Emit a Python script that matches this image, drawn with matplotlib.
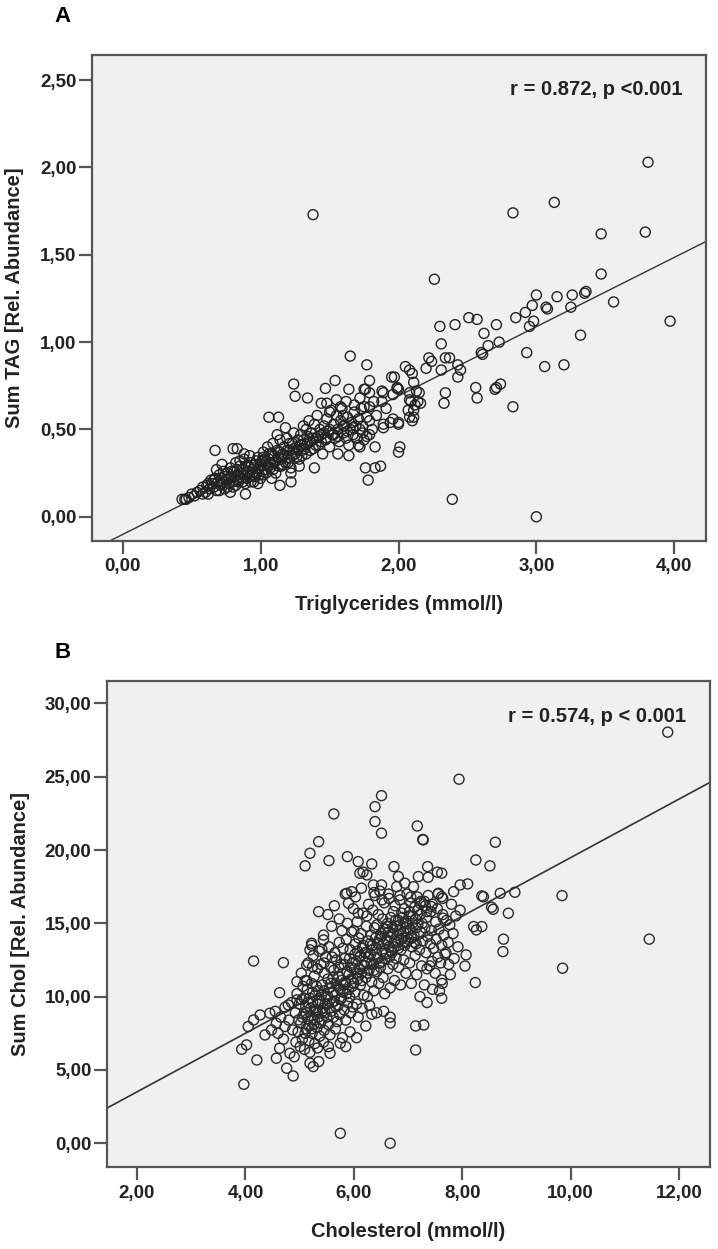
import numpy as np
import matplotlib
matplotlib.use('Agg')
import matplotlib.pyplot as plt
from matplotlib.ticker import FuncFormatter

plt.rcParams['font.family'] = ['Liberation Sans', 'DejaVu Sans']
plt.rcParams['font.weight'] = 'bold'

# panel A: triglycerides (mmol/l) vs sum TAG
tag_points = [
    # sparse upper part
    (3.81, 2.03), (3.13, 1.80), (2.83, 1.74), (3.47, 1.62), (3.79, 1.63), (2.26, 1.36), (1.38, 1.73),
    (3.47, 1.39), (3.56, 1.23), (3.97, 1.12), (3.36, 1.29), (3.35, 1.28), (3.26, 1.27), (3.25, 1.20),
    (3.15, 1.26), (3.07, 1.20), (3.08, 1.19), (3.00, 1.27), (2.97, 1.21), (2.92, 1.17), (2.98, 1.12),
    (2.95, 1.09), (2.85, 1.14), (2.71, 1.10), (2.73, 1.00), (2.65, 0.98), (2.60, 0.94), (2.61, 0.93),
    (2.62, 1.05), (2.57, 1.13), (2.51, 1.14), (2.41, 1.10), (2.30, 1.09), (2.31, 0.99), (2.22, 0.91),
    (2.24, 0.89), (2.37, 0.91), (2.34, 0.91), (2.20, 0.85), (2.31, 0.84), (2.43, 0.87), (2.45, 0.84),
    (2.43, 0.80), (2.93, 0.94), (3.32, 1.04), (3.06, 0.86), (3.20, 0.87), (2.34, 0.71), (2.33, 0.65),
    (2.56, 0.74), (2.57, 0.68), (2.70, 0.73), (2.71, 0.74), (2.74, 0.76), (2.83, 0.63), (2.39, 0.10),
    (3.00, 0.00), (2.01, 0.40), (2.00, 0.37),
    # group around 2.0
    (1.97, 0.80), (1.99, 0.735), (1.96, 0.70), (2.05, 0.86), (2.08, 0.84), (2.10, 0.82), (2.11, 0.77),
    (2.13, 0.72), (2.14, 0.66), (2.12, 0.64), (2.08, 0.67), (2.07, 0.61), (2.11, 0.57), (2.10, 0.55),
    (2.00, 0.53), (1.94, 0.54), (1.89, 0.51), (1.88, 0.72), (2.00, 0.73), (1.99, 0.74), (1.89, 0.71),
    (1.88, 0.66), (2.08, 0.71), (2.15, 0.71), (2.16, 0.65), (2.09, 0.66), (1.91, 0.62), (1.96, 0.56),
    (1.89, 0.53), (2.00, 0.54), (2.08, 0.57), (2.11, 0.61), (1.87, 0.29), (1.95, 0.80),
    # 1.7 - 1.85
    (1.77, 0.87), (1.79, 0.78), (1.76, 0.73), (1.79, 0.71), (1.75, 0.63), (1.79, 0.63), (1.77, 0.57),
    (1.79, 0.55), (1.74, 0.48), (1.77, 0.46), (1.79, 0.47), (1.72, 0.40), (1.83, 0.40), (1.76, 0.28),
    (1.83, 0.28), (1.78, 0.21), (1.65, 0.92), (1.82, 0.66), (1.84, 0.58), (1.81, 0.50),
    # around the band
    (1.24, 0.76), (1.25, 0.69), (1.34, 0.68), (1.47, 0.735), (1.54, 0.78), (1.48, 0.65), (1.55, 0.67),
    (1.64, 0.73), (1.06, 0.57), (1.13, 0.57), (0.67, 0.38), (0.72, 0.30), (0.80, 0.39), (0.83, 0.39),
    (0.89, 0.13), (1.39, 0.28), (1.14, 0.18), (1.22, 0.20), (1.56, 0.36), (1.64, 0.35), (1.71, 0.41),
    (1.44, 0.65), (1.50, 0.60), (1.58, 0.63), (1.62, 0.66), (1.68, 0.64), (1.72, 0.68), (1.60, 0.58),
    (1.75, 0.73), (0.43, 0.10), (0.45, 0.10),
    # dense band
    (0.46, 0.10), (0.48, 0.11), (0.52, 0.12), (0.54, 0.14), (0.50, 0.13),
    (0.56, 0.15), (0.58, 0.17), (0.60, 0.14), (0.62, 0.19), (0.63, 0.16), (0.64, 0.21), (0.61, 0.18),
    (0.66, 0.17), (0.67, 0.22), (0.68, 0.15), (0.69, 0.20), (0.70, 0.24), (0.71, 0.18), (0.72, 0.22),
    (0.73, 0.26), (0.74, 0.16), (0.68, 0.27),
    (0.75, 0.21), (0.76, 0.25), (0.77, 0.19), (0.78, 0.28), (0.79, 0.23), (0.80, 0.17), (0.81, 0.26),
    (0.82, 0.31), (0.83, 0.21), (0.84, 0.24), (0.78, 0.14), (0.85, 0.29),
    (0.86, 0.22), (0.87, 0.27), (0.88, 0.33), (0.89, 0.19), (0.90, 0.25), (0.91, 0.29), (0.92, 0.23),
    (0.93, 0.31), (0.94, 0.27), (0.95, 0.20), (0.88, 0.36), (0.92, 0.35),
    (0.96, 0.30), (0.97, 0.25), (0.98, 0.34), (0.99, 0.28), (1.00, 0.22), (1.01, 0.32), (1.02, 0.37),
    (1.03, 0.27), (1.04, 0.30), (1.05, 0.40), (0.98, 0.19), (1.02, 0.24),
    (1.06, 0.33), (1.07, 0.28), (1.08, 0.36), (1.09, 0.42), (1.10, 0.31), (1.11, 0.25), (1.12, 0.38),
    (1.13, 0.34), (1.14, 0.44), (1.15, 0.29), (1.08, 0.22), (1.12, 0.47),
    (1.16, 0.36), (1.17, 0.40), (1.18, 0.31), (1.19, 0.45), (1.20, 0.34), (1.21, 0.38), (1.22, 0.28),
    (1.23, 0.42), (1.24, 0.48), (1.25, 0.36), (1.18, 0.51), (1.22, 0.25),
    (1.26, 0.40), (1.27, 0.44), (1.28, 0.33), (1.29, 0.47), (1.30, 0.38), (1.31, 0.52), (1.32, 0.42),
    (1.33, 0.36), (1.34, 0.46), (1.35, 0.55), (1.28, 0.29), (1.33, 0.50),
    (1.36, 0.43), (1.37, 0.48), (1.38, 0.39), (1.39, 0.53), (1.40, 0.45), (1.41, 0.58), (1.42, 0.41),
    (1.43, 0.50), (1.44, 0.47), (1.45, 0.36),
    (1.46, 0.52), (1.47, 0.44), (1.48, 0.56), (1.49, 0.49), (1.50, 0.40), (1.51, 0.61), (1.52, 0.47),
    (1.53, 0.53), (1.54, 0.45), (1.55, 0.58),
    (1.56, 0.50), (1.57, 0.43), (1.58, 0.55), (1.59, 0.62), (1.60, 0.48), (1.61, 0.52), (1.62, 0.45),
    (1.63, 0.57), (1.64, 0.41), (1.65, 0.50),
    (1.66, 0.54), (1.67, 0.47), (1.68, 0.60), (1.69, 0.52), (1.70, 0.45), (1.71, 0.56), (1.72, 0.50),
    (1.73, 0.62), (1.74, 0.52), (1.75, 0.44),
    # more of the dense band core
    (0.62, 0.13), (0.65, 0.19), (0.70, 0.15), (0.72, 0.19), (0.74, 0.23), (0.76, 0.17), (0.77, 0.22),
    (0.79, 0.26), (0.80, 0.20), (0.81, 0.23), (0.82, 0.18), (0.83, 0.27), (0.84, 0.20), (0.86, 0.25),
    (0.87, 0.20), (0.88, 0.24), (0.89, 0.29), (0.90, 0.22), (0.91, 0.26), (0.93, 0.20), (0.94, 0.24),
    (0.95, 0.28), (0.96, 0.23), (0.97, 0.32), (0.99, 0.24), (1.00, 0.30), (1.01, 0.26), (1.03, 0.33),
    (1.04, 0.25), (1.05, 0.29), (1.06, 0.36), (1.07, 0.31), (1.09, 0.27), (1.10, 0.35), (1.11, 0.32),
    (1.13, 0.29), (1.14, 0.37), (1.15, 0.33), (1.16, 0.30), (1.17, 0.35), (1.19, 0.38), (1.20, 0.31),
    (1.21, 0.42), (1.23, 0.35), (1.24, 0.39), (1.26, 0.34), (1.27, 0.38), (1.29, 0.41), (1.30, 0.35),
    (1.31, 0.44), (1.32, 0.39), (1.34, 0.42), (1.36, 0.38), (1.38, 0.45), (1.40, 0.41), (1.42, 0.46),
    (1.44, 0.43), (1.46, 0.48), (1.48, 0.45), (1.50, 0.50), (1.53, 0.47), (1.56, 0.46), (1.60, 0.52),
    (1.63, 0.49), (1.67, 0.51), (0.58, 0.13), (0.66, 0.21), (0.73, 0.20), (0.85, 0.32), (1.02, 0.34),
]
tri_mmol = [p[0] for p in tag_points]
sum_tag = [p[1] for p in tag_points]

# panel B: cholesterol (mmol/l) vs sum Chol
chol_points = [
    # sparse upper / right part
    (11.79, 28.04), (7.94, 24.83), (6.51, 23.71), (6.39, 22.96), (6.39, 21.94), (6.51, 21.15),
    (5.63, 22.46), (7.17, 21.64), (7.28, 20.69), (7.27, 20.72), (8.61, 20.53), (5.35, 20.57),
    (5.19, 19.78), (5.10, 18.92), (5.54, 19.28), (8.25, 19.32), (8.51, 18.92), (5.88, 19.55),
    (6.08, 19.21), (6.33, 19.05), (6.11, 18.42), (6.24, 18.30), (6.74, 18.87), (6.82, 18.19),
    (6.94, 17.74), (7.10, 17.50), (7.19, 18.19), (7.36, 18.87), (7.54, 18.49), (7.37, 18.14),
    (7.62, 18.42), (7.84, 17.16), (7.96, 17.62), (8.10, 17.69), (8.36, 16.87), (8.39, 16.81),
    (8.70, 17.05), (8.97, 17.12), (8.54, 16.10), (8.57, 15.96), (8.85, 15.69), (9.84, 16.89),
    (11.45, 13.92), (9.85, 11.94), (8.76, 13.92), (8.75, 13.07), (8.24, 10.96), (8.07, 12.85),
    (8.05, 12.09), (8.21, 14.78), (8.36, 14.78), (8.26, 14.55), (7.62, 16.82), (7.65, 15.35),
    (7.62, 11.14), (7.63, 10.90), (7.62, 9.89), (5.35, 15.80), (6.17, 18.50), (6.36, 17.62),
    (6.51, 17.62), (7.22, 16.37), (7.34, 15.80), (7.43, 16.14), (7.56, 17.05),
    # left and low part
    (4.15, 12.43), (4.70, 12.32), (3.97, 4.02), (3.93, 6.41), (4.02, 6.71), (4.21, 5.68),
    (4.05, 7.96), (4.15, 8.41), (4.27, 8.75), (4.36, 7.39), (4.48, 7.73), (4.57, 8.19),
    (4.45, 8.87), (4.63, 10.27), (4.73, 9.28), (4.63, 6.48), (4.57, 5.80), (4.76, 5.12),
    (4.88, 4.59), (4.82, 6.14), (4.87, 7.73), (4.73, 7.96), (5.75, 0.68), (6.67, 0.00),
    (4.95, 11.02), (5.10, 11.09), (4.95, 9.78), (4.79, 9.43), (4.98, 8.41), (5.01, 6.59),
    (5.19, 5.46), (5.25, 5.23), (5.35, 5.57), (5.56, 6.14), (5.19, 13.19), (5.22, 13.64),
    (5.44, 13.87), (5.41, 13.23), (5.13, 12.16), (5.24, 12.05), (5.53, 6.59), (5.75, 6.82),
    (5.85, 6.59), (4.55, 9.00), (4.65, 8.60), (4.70, 7.10), (4.80, 8.40), (4.85, 9.60),
    (4.90, 5.90), (4.60, 7.50), (7.14, 6.36), (7.14, 8.00), (7.29, 8.07), (7.22, 10.00),
    (7.35, 9.60), (7.45, 10.50), (7.40, 12.10), (7.50, 11.60), (7.30, 10.80), (7.60, 12.30),
    (6.42, 8.90), (6.67, 8.60), (6.67, 8.20), (6.22, 8.00), (6.05, 7.20), (6.55, 9.00),
    (5.87, 17.05), (5.96, 17.16), (5.90, 16.37), (6.08, 15.69), (6.37, 17.10), (6.52, 16.60),
    (6.64, 17.00), (6.85, 16.90), (7.05, 16.80), (7.30, 16.50), (7.55, 17.00), (7.64, 16.70),
    (7.70, 13.00), (7.75, 12.20), (7.78, 11.50), (7.85, 12.60),
    # dense core
    (4.92, 8.9), (4.95, 10.2), (4.97, 7.6), (4.99, 9.5), (4.93, 6.9),
    (5.02, 8.2), (5.04, 9.8), (5.05, 7.1), (5.06, 10.7), (5.08, 8.8), (5.09, 6.4), (5.03, 11.6),
    (5.11, 9.3), (5.12, 7.8), (5.14, 10.5), (5.15, 8.5), (5.16, 12.3), (5.17, 7.0), (5.18, 9.9),
    (5.19, 6.2), (5.13, 11.1),
    (5.21, 8.7), (5.22, 10.9), (5.23, 7.5), (5.24, 9.6), (5.25, 12.8), (5.26, 8.1), (5.27, 11.4),
    (5.28, 6.8), (5.29, 10.1), (5.22, 13.5),
    (5.31, 9.1), (5.32, 7.9), (5.33, 11.9), (5.34, 8.6), (5.35, 10.4), (5.36, 13.1), (5.37, 7.3),
    (5.38, 9.7), (5.39, 12.2), (5.33, 6.5),
    (5.41, 8.4), (5.42, 10.8), (5.43, 9.2), (5.44, 14.2), (5.45, 7.7), (5.46, 11.6), (5.47, 8.9),
    (5.48, 12.7), (5.49, 10.0), (5.44, 6.9),
    (5.51, 9.5), (5.52, 11.2), (5.53, 8.1), (5.54, 13.4), (5.55, 10.6), (5.56, 7.4), (5.57, 12.0),
    (5.58, 9.0), (5.59, 14.8), (5.52, 15.6),
    (5.61, 10.3), (5.62, 8.6), (5.63, 11.8), (5.64, 9.7), (5.65, 13.0), (5.66, 7.8), (5.67, 10.9),
    (5.68, 12.5), (5.69, 8.3), (5.64, 16.2),
    (5.71, 9.4), (5.72, 11.4), (5.73, 13.7), (5.74, 8.8), (5.75, 10.5), (5.76, 12.2), (5.77, 9.9),
    (5.78, 14.5), (5.79, 7.2), (5.73, 15.3),
    (5.81, 10.8), (5.82, 9.1), (5.83, 12.6), (5.84, 11.0), (5.85, 8.4), (5.86, 13.9), (5.87, 10.2),
    (5.88, 15.0), (5.89, 9.6), (5.84, 17.0),
    (5.91, 11.5), (5.92, 10.0), (5.93, 13.2), (5.94, 8.9), (5.95, 12.0), (5.96, 14.4), (5.97, 10.7),
    (5.98, 9.3), (5.99, 16.0), (5.93, 7.6),
    (6.01, 11.9), (6.02, 10.3), (6.03, 13.6), (6.04, 12.4), (6.05, 9.5), (6.06, 15.1), (6.07, 11.2),
    (6.08, 8.6), (6.09, 14.0), (6.03, 16.8),
    (6.11, 12.7), (6.12, 10.8), (6.13, 14.3), (6.14, 11.6), (6.15, 9.2), (6.16, 13.3), (6.17, 15.7),
    (6.18, 10.1), (6.19, 12.1), (6.14, 17.4),
    (6.21, 13.0), (6.22, 11.3), (6.23, 14.8), (6.24, 12.3), (6.25, 10.0), (6.26, 13.8), (6.27, 16.3),
    (6.28, 11.8), (6.29, 9.4), (6.24, 15.5),
    (6.31, 12.9), (6.32, 14.2), (6.33, 11.0), (6.34, 13.5), (6.35, 15.9), (6.36, 12.2), (6.37, 10.4),
    (6.38, 14.7), (6.39, 16.9), (6.33, 8.8),
    (6.41, 13.3), (6.42, 11.7), (6.43, 14.9), (6.44, 12.6), (6.45, 15.6), (6.46, 10.9), (6.47, 13.9),
    (6.48, 17.2), (6.49, 12.0),
    (6.51, 14.1), (6.52, 12.4), (6.53, 15.3), (6.54, 11.3), (6.55, 13.6), (6.56, 16.4), (6.57, 10.2),
    (6.58, 14.6), (6.59, 12.9),
    (6.61, 13.8), (6.62, 15.0), (6.63, 11.9), (6.64, 14.4), (6.65, 16.7), (6.66, 12.7), (6.67, 10.6),
    (6.68, 15.4), (6.69, 13.1),
    (6.71, 14.3), (6.72, 12.2), (6.73, 15.8), (6.74, 13.4), (6.75, 11.1), (6.76, 16.2), (6.77, 14.8),
    (6.78, 12.6), (6.79, 17.5),
    (6.81, 13.7), (6.82, 15.2), (6.83, 12.0), (6.84, 14.5), (6.85, 16.6), (6.86, 10.8), (6.87, 13.2),
    (6.88, 15.7),
    (6.91, 14.0), (6.92, 12.5), (6.93, 16.0), (6.94, 13.5), (6.95, 15.1), (6.96, 11.6), (6.97, 14.7),
    (6.98, 17.0),
    (7.01, 13.9), (7.02, 15.5), (7.03, 12.3), (7.04, 14.6), (7.05, 16.4), (7.06, 10.9), (7.07, 13.4),
    (7.08, 15.0),
    (7.11, 14.2), (7.12, 16.1), (7.13, 12.8), (7.14, 15.3), (7.15, 13.6), (7.16, 11.5), (7.17, 16.8),
    (7.18, 14.9),
    (7.21, 13.2), (7.22, 15.6), (7.23, 14.4), (7.24, 16.5), (7.25, 12.1), (7.26, 15.0), (7.27, 13.8),
    (7.31, 14.7), (7.32, 16.2), (7.33, 13.0), (7.34, 15.4), (7.35, 11.9), (7.36, 14.1), (7.37, 16.9),
    (7.41, 13.6), (7.42, 15.8), (7.43, 14.5), (7.44, 12.4), (7.45, 16.3), (7.47, 13.3),
    (7.51, 15.1), (7.52, 13.9), (7.54, 16.0), (7.55, 12.7), (7.57, 14.6), (7.58, 10.4),
    (7.62, 13.5), (7.64, 15.6), (7.66, 14.2), (7.68, 12.9), (7.71, 15.2), (7.74, 13.7), (7.77, 14.9),
    (7.80, 16.3), (7.83, 14.3), (7.88, 15.5), (7.92, 13.4), (7.96, 15.9),
    # more of the dense core
    (5.05, 8.6), (5.08, 9.9), (5.10, 7.5), (5.12, 8.9), (5.15, 9.6), (5.17, 8.0), (5.20, 9.2),
    (5.22, 7.8), (5.24, 10.3), (5.27, 8.4), (5.29, 9.0), (5.31, 10.7), (5.33, 8.9), (5.35, 9.5),
    (5.38, 8.2), (5.40, 10.1), (5.42, 9.0), (5.45, 10.4), (5.47, 9.5), (5.50, 8.6), (5.52, 10.0),
    (5.55, 9.2), (5.57, 10.9), (5.60, 9.6), (5.62, 11.3), (5.65, 10.1), (5.67, 9.3), (5.70, 10.7),
    (5.72, 12.0), (5.75, 9.8), (5.77, 11.1), (5.80, 10.3), (5.82, 12.2), (5.85, 10.9), (5.87, 11.7),
    (5.90, 10.5), (5.92, 12.6), (5.95, 11.2), (5.97, 12.3), (6.00, 10.9), (6.02, 12.9), (6.05, 11.6),
    (6.07, 13.1), (6.10, 11.9), (6.12, 12.8), (6.15, 11.1), (6.17, 13.5), (6.20, 12.4), (6.22, 13.0),
    (6.25, 11.6), (6.27, 12.7), (6.30, 13.6), (6.32, 12.3), (6.35, 13.2), (6.37, 11.8), (6.40, 14.0),
    (6.42, 12.9), (6.45, 13.6), (6.47, 12.3), (6.50, 14.3), (6.52, 13.1), (6.55, 14.6), (6.57, 12.6),
    (6.60, 13.9), (6.62, 14.8), (6.65, 13.4), (6.67, 14.1), (6.70, 13.0), (6.72, 14.7), (6.75, 13.8),
    (6.77, 15.2), (6.80, 14.2), (6.82, 13.3), (6.85, 14.9), (6.87, 13.9), (6.90, 15.4), (6.92, 14.4),
    (6.95, 13.7), (6.97, 15.0), (7.00, 14.3), (7.03, 15.8), (7.06, 14.0), (7.09, 15.5), (7.12, 13.7),
    (7.15, 14.7), (7.18, 15.9), (5.45, 12.3), (5.60, 12.7), (5.80, 13.3), (6.00, 14.5),
]
chol_mmol = [p[0] for p in chol_points]
sum_chol = [p[1] for p in chol_points]

# regression lines as drawn (slope, intercept)
fit_a = (0.3965, -0.101)
fit_b = (1.997, -0.486)

stat_a = 'r = 0.872, p <0.001'
stat_b = 'r = 0.574, p < 0.001'

W, H = 718, 1249
fig = plt.figure(figsize=(W / 100, H / 100), dpi=100)
fig.patch.set_facecolor('white')

ax_a = fig.add_axes([92 / W, 1 - 540.7 / H, 613.7 / W, 485.7 / H])
ax_b = fig.add_axes([106.7 / W, 1 - 1167.3 / H, 603.3 / W, 486.6 / H])


def comma(v, pos):
    return ('%.2f' % v).replace('.', ',')


def style(ax, xlim, ylim, xticks, yticks, xlabel, ylabel, ylab_x):
    ax.set_facecolor('#f0f0f0')
    ax.set_xlim(*xlim)
    ax.set_ylim(*ylim)
    ax.set_xticks(xticks)
    ax.set_yticks(yticks)
    ax.xaxis.set_major_formatter(FuncFormatter(comma))
    ax.yaxis.set_major_formatter(FuncFormatter(comma))
    for s in ax.spines.values():
        s.set_color('#555555')
        s.set_linewidth(1.6)
    ax.tick_params(axis='both', direction='out', length=9.5, width=1.6, color='#555555',
                   labelsize=13.5, labelcolor='#222222')
    ax.tick_params(axis='x', pad=3)
    ax.tick_params(axis='y', pad=1.5)
    for lab in ax.get_xticklabels() + ax.get_yticklabels():
        lab.set_fontweight('bold')
    ax.set_xlabel(xlabel, fontsize=14.5, fontweight='bold', color='#222222')
    ax.set_ylabel(ylabel, fontsize=14.5, fontweight='bold', color='#222222')
    ax.xaxis.set_label_coords(0.5, -0.112)
    ax.yaxis.set_label_coords(ylab_x, 0.5)


style(ax_a, (-0.223, 4.228), (-0.137, 2.644), np.arange(0, 4.01, 1), np.arange(0, 2.51, 0.5),
      'Triglycerides (mmol/l)', 'Sum TAG [Rel. Abundance]', -0.11)
style(ax_b, (1.44, 12.57), (-1.64, 31.55), np.arange(2, 12.01, 2), np.arange(0, 30.01, 5),
      'Cholesterol (mmol/l)', 'Sum Chol [Rel. Abundance]', -0.127)

ax_a.scatter(tri_mmol, sum_tag, s=52, facecolors='none', edgecolors='#222222', linewidths=1.0, zorder=3)
ax_b.scatter(chol_mmol, sum_chol, s=52, facecolors='none', edgecolors='#2a2a2a', linewidths=1.0, zorder=3)

xa = np.array(ax_a.get_xlim())
ax_a.plot(xa, fit_a[0] * xa + fit_a[1], color='#333333', lw=1.0, zorder=2)
xb = np.array(ax_b.get_xlim())
ax_b.plot(xb, fit_b[0] * xb + fit_b[1], color='#333333', lw=1.2, zorder=2)

ax_a.text(0.9625, 0.928, stat_a, transform=ax_a.transAxes, ha='right', va='center',
          fontsize=14.5, fontweight='bold', color='#222222')
ax_b.text(0.9597, 0.926, stat_b, transform=ax_b.transAxes, ha='right', va='center',
          fontsize=14.5, fontweight='bold', color='#222222')

fig.text(63 / W, 1 - 16 / H, 'A', ha='center', va='center', fontsize=16, fontweight='bold')
fig.text(63 / W, 1 - 653 / H, 'B', ha='center', va='center', fontsize=16, fontweight='bold')

fig.savefig('out.png', dpi=100)
